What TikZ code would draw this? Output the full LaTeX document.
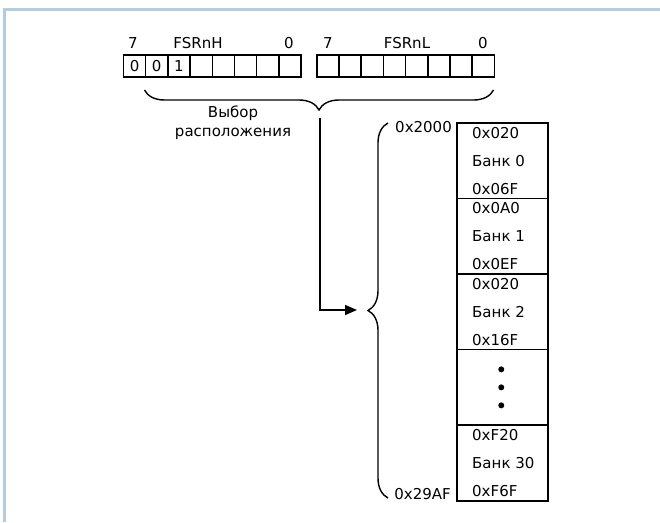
\documentclass[tikz,border=0pt]{standalone}
\usepackage{fontspec}
\setmainfont{DejaVu Sans}
\usetikzlibrary{decorations.pathreplacing,arrows.meta}
\definecolor{framec}{HTML}{B4CCE0}
\definecolor{ink}{HTML}{000000}
\tikzset{
  txt/.style={inner sep=0pt, font=\fontsize{15}{17}\selectfont, text=ink},
  cell/.style={draw=ink, line width=1.5pt, minimum width=22.2pt, minimum height=22pt, inner sep=0pt, anchor=north west, font=\fontsize{15}{17}\selectfont},
  bank/.style={draw=ink, line width=1.5pt, minimum width=91pt, minimum height=75.6pt, inner sep=0pt, anchor=north west},
  brc/.style={draw=ink, line width=1.4pt, decorate, decoration={brace, amplitude=#1}},
  conn/.style={draw=ink, line width=1.4pt}
}
\begin{document}
\begin{tikzpicture}[x=1pt,y=-1pt]
\useasboundingbox (0,0) rectangle (660,522);
\draw[framec, line width=2.2pt] (4.5,522) -- (4.5,9.5) -- (660,9.5);
% FSRnH register
\foreach \i/\t in {0/0,1/0,2/1,3/,4/,5/,6/,7/} {
  \node[cell] (h\i) at ({122.7+22.2*\i},54) {\t};
}
\foreach \i in {0,...,7} {
  \node[cell] (l\i) at ({316+22.2*\i},54) {};
}
\node[txt] (h7lab) at (133,43) {7};
\node[txt] (hname) at (198,43) {FSRnH};
\node[txt] (h0lab) at (289,43) {0};
\node[txt] (l7lab) at (328,43) {7};
\node[txt] (lname) at (407,43) {FSRnL};
\node[txt] (l0lab) at (483,43) {0};
% top brace
\coordinate (br1) at (493.5,90);
\coordinate (br2) at (144.5,90);
\draw[brc=20pt] (br1) -- (br2);
\node[txt, align=center] (sel) at (233,122.5) {Выбор\\[2pt]расположения};
\coordinate (astart) at (320,118);
\coordinate (tip) at (357,310);
\draw[conn, -{Triangle[length=12pt,width=10pt]}] (astart) |- (tip);
% left brace
\coordinate (lb1) at (388,498);
\coordinate (lb2) at (388,123);
\draw[brc=20pt] (lb1) -- (lb2);
\node[txt, anchor=east] (a1) at (452,127) {0x2000};
\node[txt, anchor=east] (a2) at (451,494) {0x29AF};
% memory banks
\node[bank] (b0) at (456,122) {};
\node[bank] (b1) at (456,197.6) {};
\node[bank] (b2) at (456,273.2) {};
\node[bank] (bd) at (456,348.8) {};
\node[bank] (b30) at (456,424.4) {};
\foreach \n/\a/\b/\c in {b0/0x020/Банк 0/0x06F, b1/0x0A0/Банк 1/0x0EF, b2/0x020/Банк 2/0x16F, b30/0xF20/Банк 30/0xF6F} {
  \node[txt, anchor=west] at ([xshift=16pt,yshift=28pt]\n.west) {\a};
  \node[txt, anchor=west] at ([xshift=16pt]\n.west) {\b};
  \node[txt, anchor=west] at ([xshift=16pt,yshift=-28pt]\n.west) {\c};
}
\foreach \dy in {-18,0,18} {
  \fill[ink] ([xshift=-1pt,yshift=\dy pt]bd.center) circle (3pt);
}
\end{tikzpicture}
\end{document}
